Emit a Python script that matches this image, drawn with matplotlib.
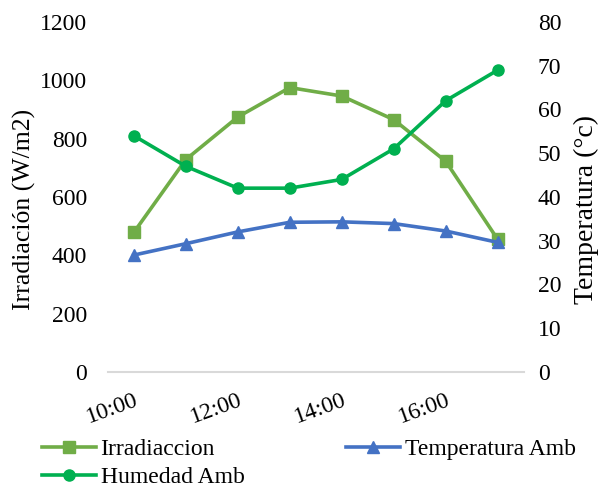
import matplotlib
matplotlib.use("Agg")
import matplotlib.pyplot as plt
import numpy as np

# --- Data --------------------------------------------------------------- #
hours = ["10:00", "11:00", "12:00", "13:00", "14:00", "15:00", "16:00", "17:00"]
tick_labels = ["10:00", "", "12:00", "", "14:00", "", "16:00", ""]
irradiacion = [478, 728, 874, 975, 946, 865, 722, 454]          # W/m2 (left axis)
temperatura = [26.7, 29.3, 32.0, 34.2, 34.3, 33.9, 32.2, 29.6]  # °C (right axis)
humedad = [54, 47, 42, 42, 44, 51, 62, 69]                      # right axis

COLORS = {"irr": "#70AD47", "temp": "#4472C4", "hum": "#00B050"}

plt.rcParams.update({"font.family": ["Liberation Serif", "DejaVu Serif"],
                     "font.size": 17})

fig = plt.figure(figsize=(6.09, 4.88), dpi=100)
ax = fig.add_axes([0.177, 0.238, 0.683, 0.717])
ax2 = ax.twinx()

x = np.arange(len(hours))

l_irr, = ax.plot(x, irradiacion, color=COLORS["irr"], lw=2.6, marker="s",
                 ms=8, label="Irradiaccion", zorder=3)
l_temp, = ax2.plot(x, temperatura, color=COLORS["temp"], lw=2.6, marker="^",
                   ms=8, label="Temperatura Amb", zorder=3)
l_hum, = ax2.plot(x, humedad, color=COLORS["hum"], lw=2.6, marker="o",
                  ms=8, label="Humedad Amb", zorder=3)

ax.set_xlim(-0.5, len(hours) - 0.5)
ax.set_ylim(0, 1200)
ax.set_yticks(np.arange(0, 1201, 200))
ax2.set_ylim(0, 80)
ax2.set_yticks(np.arange(0, 81, 10))

ax.set_xticks(x)
ax.set_xticklabels(tick_labels, rotation=20, ha="right", rotation_mode="anchor")

for a in (ax, ax2):
    for side in ("top", "left", "right"):
        a.spines[side].set_visible(False)
    a.tick_params(length=0)
ax2.spines["bottom"].set_visible(False)
ax.spines["bottom"].set_color("#D9D9D9")
ax.spines["bottom"].set_linewidth(1.5)
ax.tick_params(axis="y", pad=15)
ax.tick_params(axis="x", pad=13)
ax2.tick_params(axis="y", pad=10)

# axis titles sit a bit below the middle, as in the original
ax.set_ylabel("Irradiación (W/m2)", fontsize=18.5)
ax.yaxis.set_label_coords(-0.172, 0.463)
ax2.set_ylabel("Temperatura (°c)", fontsize=20)
ax2.yaxis.set_label_coords(1.12, 0.463)

fig.legend([l_irr, l_hum, l_temp], ["Irradiaccion", "Humedad Amb", "Temperatura Amb"],
           ncol=2, frameon=False, loc="lower left", bbox_to_anchor=(0.045, -0.03),
           columnspacing=4.3, handlelength=2.3, handletextpad=0.2,
           labelspacing=0.3, borderaxespad=0.2)

fig.savefig("out.png", dpi=100)
